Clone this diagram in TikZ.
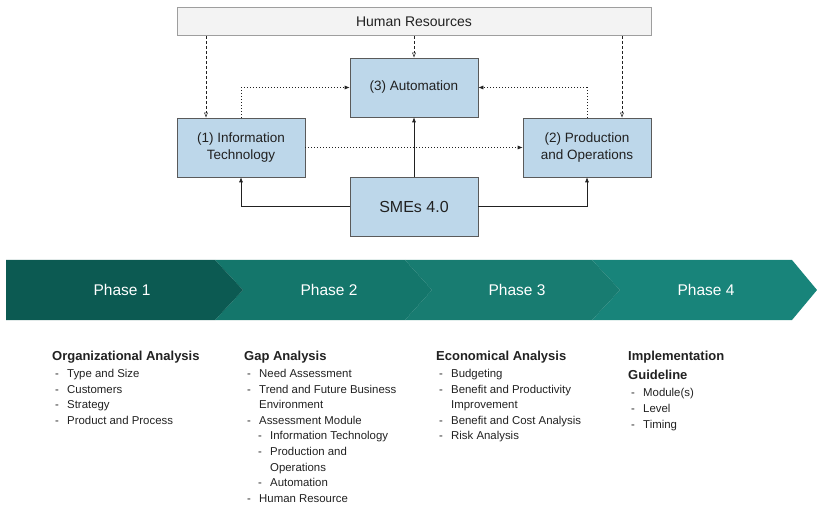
\documentclass[tikz,border=0pt]{standalone}
\usepackage{fontspec}
\setmainfont{Liberation Sans}
\usetikzlibrary{positioning,arrows.meta}
\definecolor{boxblue}{HTML}{BDD7EA}
\definecolor{boxline}{HTML}{5A5A5A}
\definecolor{hrgray}{HTML}{F3F3F3}
\definecolor{hrline}{HTML}{9E9E9E}
\definecolor{phaseone}{HTML}{0C5A52}
\definecolor{phasetwo}{HTML}{14766B}
\definecolor{phasethree}{HTML}{187C71}
\definecolor{phasefour}{HTML}{18847A}
\definecolor{textmain}{HTML}{212121}
\newcommand{\itm}[1]{\makebox[12pt][l]{-}#1}
\newcommand{\subitm}[1]{\hspace*{11pt}\makebox[12pt][l]{-}#1}

\begin{document}
\begin{tikzpicture}[x=1pt, y=-1pt,
  modbox/.style={
    rectangle, draw=boxline, fill=boxblue, line width=0.6pt,
    minimum width=128pt, minimum height=59pt, inner sep=2pt,
    align=center, text=textmain, font=\fontsize{13.5}{17}\selectfont,
  },
  hrbox/.style={
    rectangle, draw=hrline, fill=hrgray, line width=0.6pt,
    minimum width=474pt, minimum height=28pt,
    text=textmain, font=\fontsize{14}{16}\selectfont,
  },
  solidlink/.style={-{Latex[length=5pt,width=4pt]}, draw=textmain, line width=0.6pt},
  dashlink/.style={-{Latex[length=5pt,width=4pt,open]}, draw=textmain, line width=0.5pt, dash pattern=on 3pt off 2pt},
  dotlink/.style={-{Latex[length=5pt,width=4pt]}, draw=textmain, line width=0.6pt, dash pattern=on 1pt off 2pt},
  phaselabel/.style={text=white, font=\fontsize{15.5}{18}\selectfont},
  listhead/.style={anchor=base west, inner sep=0pt, align=left, text=textmain,
    font=\fontsize{13}{19}\selectfont\bfseries},
  itemlist/.style={inner sep=0pt, align=left, text=textmain,
    font=\fontsize{11.4}{15.65}\selectfont},
]
\useasboundingbox (0,0) rectangle (817,505);

% top module diagram
\node[hrbox] (hr) at (414,21.5) {Human Resources};
\node[modbox] (auto) at (414,87.5) {(3) Automation};
\node[modbox] (it) at (241,147.5) {(1) Information\\Technology};
\node[modbox] (prod) at (587,147.5) {(2) Production\\and Operations};
\node[modbox, font=\fontsize{16}{19}\selectfont] (sme) at (414,206.5) {SMEs 4.0};

\draw[dashlink] (206,0 |- hr.south) -- (206,0 |- it.north);
\draw[dashlink] (hr.south) -- (auto.north);
\draw[dashlink] (622,0 |- hr.south) -- (622,0 |- prod.north);

\draw[dotlink] (it.north) |- (auto.west);
\draw[dotlink] (prod.north) |- (auto.east);
\draw[dotlink] (it.east) -- (prod.west);

\draw[solidlink] (sme.west) -| (it.south);
\draw[solidlink] (sme.east) -| (prod.south);
\draw[solidlink] (sme.north) -- (auto.south);

% phase band
\fill[phasefour] (592,260) -- (792,260) -- (817,290) -- (792,320) -- (592,320) -- (620,290) -- cycle;
\fill[phasethree] (405,260) -- (592,260) -- (620,290) -- (592,320) -- (405,320) -- (432,290) -- cycle;
\fill[phasetwo] (215,260) -- (405,260) -- (432,290) -- (405,320) -- (215,320) -- (243,290) -- cycle;
\fill[phaseone] (6,260) -- (215,260) -- (243,290) -- (215,320) -- (6,320) -- cycle;

\node[phaselabel] (p1) at (122,290) {Phase 1};
\node[phaselabel] (p2) at (329,290) {Phase 2};
\node[phaselabel] (p3) at (517,290) {Phase 3};
\node[phaselabel] (p4) at (706,290) {Phase 4};

% phase contents
\node[listhead] (h1) at (52,360) {Organizational Analysis};
\node[itemlist, below right=6pt and 3pt of h1.south west] (l1) {
  \itm{Type and Size}\\
  \itm{Customers}\\
  \itm{Strategy}\\
  \itm{Product and Process}
};

\node[listhead] (h2) at (244,360) {Gap Analysis};
\node[itemlist, below right=6pt and 3pt of h2.south west] (l2) {
  \itm{Need Assessment}\\
  \itm{Trend and Future Business}\\
  \hspace*{12pt}Environment\\
  \itm{Assessment Module}\\
  \subitm{Information Technology}\\
  \subitm{Production and}\\
  \hspace*{23pt}Operations\\
  \subitm{Automation}\\
  \itm{Human Resource}
};

\node[listhead] (h3) at (436,360) {Economical Analysis};
\node[itemlist, below right=6pt and 3pt of h3.south west] (l3) {
  \itm{Budgeting}\\
  \itm{Benefit and Productivity}\\
  \hspace*{12pt}Improvement\\
  \itm{Benefit and Cost Analysis}\\
  \itm{Risk Analysis}
};

\node[listhead] (h4) at (628,379) {Implementation\\Guideline};
\node[itemlist, below right=9pt and 3pt of h4.south west] (l4) {
  \itm{Module(s)}\\
  \itm{Level}\\
  \itm{Timing}
};

\end{tikzpicture}
\end{document}
